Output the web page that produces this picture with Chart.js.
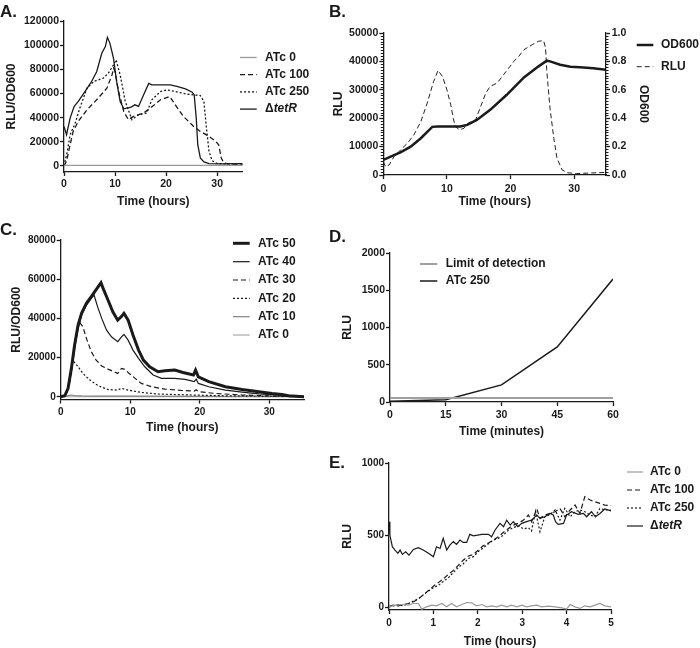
<!DOCTYPE html>
<html><head><meta charset="utf-8"><title>Figure</title>
<script src="https://cdn.jsdelivr.net/npm/chart.js@4.4.1/dist/chart.umd.min.js"></script>
<style>
html,body{margin:0;padding:0;background:#fff;}
body{position:relative;width:700px;height:648px;overflow:hidden;font-family:"Liberation Sans",Arial,sans-serif;}
canvas{position:absolute;}
.plab{position:absolute;font-weight:bold;font-size:17px;line-height:17px;color:#1a1a1a;}
</style></head><body>
<canvas id="cA" width="350" height="215" style="left:0;top:0"></canvas>
<canvas id="cB" width="375" height="215" style="left:325px;top:0"></canvas>
<canvas id="cC" width="350" height="225" style="left:0;top:215px"></canvas>
<canvas id="cD" width="375" height="228" style="left:325px;top:215px"></canvas>
<canvas id="cE" width="375" height="210" style="left:325px;top:440px"></canvas>
<div class="plab" style="left:0;top:3px">A.</div>
<div class="plab" style="left:329px;top:3px">B.</div>
<div class="plab" style="left:0;top:221px">C.</div>
<div class="plab" style="left:329px;top:228px">D.</div>
<div class="plab" style="left:329px;top:454px">E.</div>
<script>
const FONT = '"Liberation Sans", Arial, sans-serif';
const INK = '#1a1a1a';
Chart.defaults.font.family = FONT;
Chart.defaults.color = INK;

// ---------------- Panel A data (RLU/OD600 vs hours) ----------------
const A_xTicks = [0, 10, 20, 30];
const A_yTicks = [0, 20000, 40000, 60000, 80000, 100000, 120000];
const A_time_atc0 = [0, 5, 10, 15, 20, 25, 30, 35];
const A_atc0 = [500, 500, 500, 500, 500, 500, 500, 500];
const A_time_atc100 = [0,0.5,1.2,1.8,2.8,4.5,6.4,8.4,9.4,9.7,10,10.7,11.7,12.6,13.6,15.6,16.9,18.9,20.7,21.8,23.4,25.4,26.7,28.4,29.7,30.3,30.8,31.3,32.6,35];
const A_atc100 = [0,3900,17600,28600,36900,46500,54800,64400,75400,80900,78000,61600,45100,38300,41000,43800,47900,54800,57500,50600,41000,32700,28600,24500,20400,17600,6600,2500,1100,1100];
const A_time_atc250 = [0,0.65,1.2,2.2,3.1,4.5,5.8,7.7,8.7,9.7,10.2,11,12,13.3,14.6,16.2,17.2,18.9,20.2,21.8,24.1,26.7,27.4,27.9,28.4,29,30,32,35];
const A_atc250 = [0,12100,25900,35500,47900,64400,69900,72700,76800,83700,87800,75400,53400,38300,42400,43800,54800,61600,63000,61600,59400,58300,53400,31400,12100,4400,1900,1700,1700];
const A_time_dtetR = [0,0.5,1.2,2,2.8,4.1,5.4,6.4,7.4,8.1,8.5,9.0,9.7,10.3,11,11.7,13,13.9,14.6,15.6,16.6,17.2,18.9,20.8,22.1,23.8,25.1,25.5,25.9,26.2,26.7,27.4,28.4,30.6,35];
const A_dtetR = [32700,25900,39600,49300,53400,61600,69900,78000,93300,98800,106500,101500,89000,70000,53400,47300,48400,50600,49300,58900,68300,67100,67100,67100,65800,63800,61100,58900,39600,17600,6600,3300,1900,1700,1900];

// ---------------- Panel B data ----------------
const B_xTicks = [0, 10, 20, 30];
const B_yTicks = [0, 10000, 20000, 30000, 40000, 50000];
const B_y2Ticks = [0, 0.2, 0.4, 0.6, 0.8, 1.0];
const B_time_od = [0,1.15,2.7,4.3,5.9,7.7,8.5,12.1,13.2,14.7,16.8,19.4,22.1,24.4,25.7,26.2,27.8,29.4,30.9,33,35];
const B_od600 = [0.106,0.129,0.16,0.2,0.259,0.339,0.341,0.341,0.353,0.388,0.459,0.565,0.687,0.765,0.805,0.8,0.776,0.762,0.758,0.751,0.741];
const B_time_rlu = [0,0.37,0.9,1.7,2.7,3.8,4.8,5.9,6.9,7.9,8.6,9.3,10,10.6,11,11.3,12,12.7,13.3,14.5,15.3,16.1,16.8,17.9,18.9,19.7,20.5,21.3,22.1,23.4,24.4,25.2,25.5,25.7,26.2,26.8,27.3,28.1,28.9,30.4,32.5,35];
const B_rlu = [4700,2900,3500,6500,8800,11200,14100,18800,25300,32900,36800,34700,30000,24700,20000,17100,15900,16500,18200,19400,24100,28800,31200,32400,35300,37600,40000,41800,44100,45900,47100,47300,44700,36500,23500,12900,5900,1800,800,500,700,900];

// ---------------- Panel C data ----------------
const C_xTicks = [0, 10, 20, 30];
const C_yTicks = [0, 20000, 40000, 60000, 80000];
const C_time_atc50 = [0,0.58,1.06,1.54,2.0,2.5,3.0,3.7,4.4,4.9,5.4,5.8,6.1,6.8,7.5,8.2,8.7,9.1,9.7,10.4,11.2,11.9,12.8,14.0,15,16.4,17.6,19.1,19.4,19.8,21.3,23.7,26.1,28.5,30.4,31.8,32.8,35];
const C_atc50 = [0,500,4300,14500,26400,36600,42600,47700,51100,53600,56200,58200,55300,49400,43400,39100,40800,42600,39100,31500,23800,18700,15300,12800,13300,13600,12400,11100,13600,10200,7700,5100,3700,2600,1700,1200,500,0];
const C_time_atc40 = [0,0.58,1.06,1.54,2,2.5,3,3.7,4.4,4.8,5.3,5.9,6.6,7.3,8.2,8.75,9.1,9.7,10.4,11.2,12.1,13.3,14.5,16.4,17.9,19.2,19.5,19.8,21.3,23.7,26.1,28.5,30.9,33.3,35];
const C_atc40 = [0,300,3900,12800,24700,34900,41700,46800,50200,51900,46000,40000,34000,30600,28100,30600,31800,28900,23800,19600,15300,11100,9400,9400,8900,7700,9000,6800,5100,3400,2400,1500,900,300,0];
const C_time_atc30 = [0,0.8,1.3,1.8,2.3,2.7,3.2,3.7,4.4,5.1,5.9,6.8,8.2,8.75,9.2,9.7,10.7,11.6,13.1,15,17.4,19.2,19.5,19.8,22.2,26.1,30.9,35];
const C_atc30 = [0,900,7700,21300,31500,38000,35700,29800,23000,18700,15700,14100,11900,14500,14000,12400,9400,6800,5100,3900,3200,2900,3600,2600,1700,900,300,0];
const C_time_atc20 = [0,0.8,1.3,1.6,1.9,2.5,3.2,4.2,5.4,6.8,8.2,8.75,9.7,11.6,14,18.8,23.7,35];
const C_atc20 = [0,1200,9400,17000,17900,15300,11900,8500,5600,3700,3400,4300,3400,2200,1400,900,500,200];
const C_time_atc10 = [0,0.8,1.5,2,3,5,10,20,35];
const C_atc10 = [0,300,900,600,400,300,300,200,100];
const C_time_atc0 = [0,10,20,35];
const C_atc0 = [0,0,0,0];

// ---------------- Panel D data (RLU vs minutes) ----------------
const D_xTicks = [0, 15, 30, 45, 60];
const D_yTicks = [0, 500, 1000, 1500, 2000];
const D_minutes = [0, 15, 30, 45, 60];
const D_lod = [55, 55, 55, 55, 55];
const D_atc250 = [10, 30, 230, 740, 1650];

// ---------------- Panel E data (RLU vs hours) ----------------
const E_xTicks = [0, 1, 2, 3, 4, 5];
const E_yTicks = [0, 500, 1000];
const E_time_atc0 = [0,0.135,0.29,0.44,0.55,0.66,0.74,0.85,0.96,1.07,1.19,1.3,1.41,1.52,1.64,1.75,1.86,1.97,2.09,2.2,2.31,2.43,2.54,2.65,2.76,2.88,2.99,3.1,3.21,3.33,3.44,3.59,3.74,3.89,4.0,4.08,4.19,4.3,4.41,4.53,4.64,4.75,4.86,5];
const E_atc0 = [2,14,18,14,25,25,-14,2,14,9,25,2,25,2,18,32,30,9,18,2,9,2,14,2,14,2,14,2,9,14,2,7,2,-5,-14,18,2,-9,9,2,14,25,9,2];
const E_time_atc100 = [0,0.1,0.21,0.32,0.44,0.55,0.66,0.77,0.89,1.0,1.11,1.22,1.34,1.45,1.56,1.67,1.79,1.9,2.01,2.12,2.24,2.35,2.46,2.58,2.69,2.8,2.91,3.03,3.14,3.21,3.33,3.4,3.51,3.63,3.74,3.85,3.96,4.08,4.19,4.3,4.41,4.53,4.64,4.75,4.86,5];
const E_atc100 = [5,14,9,18,25,37,55,85,115,145,170,195,228,255,290,325,355,365,395,425,445,465,488,519,546,569,581,604,639,593,681,616,639,650,662,685,627,674,708,650,766,743,731,720,708,704];
const E_time_atc250 = [0,0.1,0.21,0.32,0.44,0.55,0.66,0.77,0.89,1.0,1.11,1.22,1.34,1.45,1.56,1.67,1.79,1.9,2.01,2.12,2.24,2.35,2.46,2.58,2.69,2.8,2.91,3.03,3.14,3.21,3.3,3.4,3.51,3.63,3.74,3.85,3.96,4.08,4.19,4.3,4.41,4.53,4.64,4.75,4.86,5];
const E_atc250 = [2,9,18,9,25,42,58,85,112,135,150,178,205,240,275,300,338,350,385,410,440,465,477,500,535,551,565,542,551,528,665,523,627,643,674,604,685,627,662,674,662,639,627,685,674,674];
const E_time_dtetR = [0,0.02,0.075,0.135,0.2,0.25,0.3,0.375,0.45,0.55,0.66,0.77,0.89,1.0,1.07,1.15,1.22,1.3,1.37,1.45,1.52,1.6,1.67,1.75,1.82,1.9,2.09,2.24,2.31,2.39,2.5,2.58,2.65,2.73,2.8,2.9,2.99,3.1,3.21,3.33,3.4,3.51,3.63,3.7,3.75,3.81,3.93,4.0,4.11,4.26,4.38,4.45,4.56,4.65,4.75,4.86,5];
const E_dtetR = [593,500,419,396,373,396,366,384,361,400,412,396,373,350,419,407,477,396,430,454,435,465,449,449,505,495,505,505,488,535,581,558,604,569,593,558,581,593,604,639,616,627,650,639,593,574,581,639,662,644,650,627,662,627,650,681,667];

// ---------------- helpers ----------------
const pts = (xs, ys) => xs.map((x, i) => ({x: x, y: ys[i]}));

function axis(o) {
  return {
    type: 'linear', position: o.position, min: o.min, max: o.max,
    border: {display: true, color: INK, width: 1.3},
    grid: {display: true, drawOnChartArea: false, drawTicks: true, tickLength: o.tickLength || 4, tickColor: INK, tickWidth: 1.3},
    ticks: {font: {family: FONT, size: o.tickSize, weight: 'bold'}, padding: o.tickPad, autoSkip: false,
            maxRotation: 0, minRotation: 0, color: INK, callback: o.fmt || (v => String(v))},
    afterBuildTicks: s => { s.ticks = o.ticks.map(v => ({value: v})); },
    title: {display: true, text: o.title, font: {family: FONT, size: 12, weight: 'bold'}, padding: o.titlePad, color: INK},
    afterFit: s => { if (s.isHorizontal()) s.height = o.box; else s.width = o.box; }
  };
}

function legendPlugin(L) {
  return {
    id: 'figLegend',
    afterDraw(chart) {
      const ctx = chart.ctx;
      ctx.save();
      L.order.forEach((di, i) => {
        const ds = chart.data.datasets[di];
        const y = L.ys[i];
        ctx.beginPath();
        ctx.setLineDash(ds.borderDash || []);
        ctx.lineWidth = ds.borderWidth;
        ctx.strokeStyle = ds.borderColor;
        ctx.moveTo(L.x0, y); ctx.lineTo(L.x1, y); ctx.stroke();
        ctx.setLineDash([]);
        ctx.fillStyle = INK;
        ctx.textBaseline = 'middle';
        ctx.textAlign = 'left';
        const label = ds.label;
        let x = L.tx;
        if (label.charAt(0) === 'Δ') {
          ctx.font = 'bold 12px ' + FONT;
          ctx.fillText('Δ', x, y);
          x += ctx.measureText('Δ').width;
          ctx.font = 'italic bold 12px ' + FONT;
          ctx.fillText(label.slice(1), x, y);
        } else {
          ctx.font = 'bold 12px ' + FONT;
          ctx.fillText(label, x, y);
        }
      });
      ctx.restore();
    }
  };
}

function minorTicks(list) {
  return {
    id: 'minorTicks',
    afterDraw(chart) {
      const ctx = chart.ctx;
      ctx.save();
      ctx.strokeStyle = INK; ctx.lineWidth = 1;
      list.forEach(m => {
        const s = chart.scales[m.id];
        const n = Math.round((s.max - s.min) / m.step);
        for (let k = 1; k < n; k++) {
          if (k % m.every === 0) continue;
          const py = Math.round(s.getPixelForValue(s.min + k * m.step)) + 0.5;
          const x0 = s.position === 'left' ? s.right : s.left;
          const x1 = s.position === 'left' ? s.right - m.len : s.left + m.len;
          ctx.beginPath(); ctx.moveTo(x0, py); ctx.lineTo(x1, py); ctx.stroke();
        }
      });
      ctx.restore();
    }
  };
}

function makeChart(id, datasets, scales, pad, plugins) {
  return new Chart(document.getElementById(id), {
    type: 'line',
    data: {datasets: datasets},
    options: {
      responsive: false, animation: false, devicePixelRatio: 1,
      layout: {padding: pad},
      plugins: {legend: {display: false}, tooltip: {enabled: false}},
      elements: {point: {radius: 0}, line: {tension: 0}},
      scales: scales
    },
    plugins: plugins
  });
}

// ---------------- Panel A ----------------
makeChart('cA', [
  {label: 'ATc 0', data: pts(A_time_atc0, A_atc0), borderColor: '#9a9a9a', borderWidth: 1.3},
  {label: 'ATc 100', data: pts(A_time_atc100, A_atc100), borderColor: INK, borderWidth: 1.3, borderDash: [5, 3]},
  {label: 'ATc 250', data: pts(A_time_atc250, A_atc250), borderColor: INK, borderWidth: 1.3, borderDash: [2, 2]},
  {label: 'ΔtetR', data: pts(A_time_dtetR, A_dtetR), borderColor: INK, borderWidth: 1.3}
], {
  x: axis({position: 'bottom', min: 0, max: 35, ticks: A_xTicks, tickSize: 10.5, tickPad: 2, title: 'Time (hours)', titlePad: {top: 0, bottom: 2.1}, box: 39}),
  y: axis({position: 'left', min: -5000, max: 120000, ticks: A_yTicks, tickSize: 10.5, tickPad: 1, title: 'RLU/OD600', titlePad: {top: 4.8, bottom: 0}, box: 64})
}, {left: 0, top: 21, right: 107.3, bottom: 4},
[legendPlugin({order: [0, 1, 2, 3], x0: 240, x1: 256.7, tx: 265, ys: [57.5, 74.7, 91.9, 109.1]})]);

// ---------------- Panel B ----------------
makeChart('cB', [
  {label: 'OD600', data: pts(B_time_od, B_od600), borderColor: INK, borderWidth: 2.5, yAxisID: 'y2'},
  {label: 'RLU', data: pts(B_time_rlu, B_rlu), borderColor: '#222', borderWidth: 1, borderDash: [5, 3], yAxisID: 'y'}
], {
  x: axis({position: 'bottom', min: 0, max: 35, ticks: B_xTicks, tickSize: 10.5, tickPad: 4, title: 'Time (hours)', titlePad: {top: 0, bottom: 2}, box: 36}),
  y: axis({position: 'left', min: 0, max: 50000, ticks: B_yTicks, tickSize: 10.5, tickPad: 1, title: 'RLU', titlePad: {top: 6.8, bottom: 0}, box: 58.3}),
  y2: axis({position: 'right', min: 0, max: 1, ticks: B_y2Ticks, tickSize: 10.5, tickPad: 1.7, fmt: v => v.toFixed(1), title: 'OD600', titlePad: {top: 5.5, bottom: 0}, box: 50})
}, {left: 0, top: 33, right: 44, bottom: 4},
[legendPlugin({order: [0, 1], x0: 311.7, x1: 328.3, tx: 336, ys: [45, 66.7]}),
 minorTicks([{id: 'y', step: 1000, every: 10, len: 2.5}, {id: 'y2', step: 0.02, every: 10, len: 2.5}])]);

// ---------------- Panel C ----------------
makeChart('cC', [
  {label: 'ATc 50', data: pts(C_time_atc50, C_atc50), borderColor: INK, borderWidth: 3},
  {label: 'ATc 40', data: pts(C_time_atc40, C_atc40), borderColor: INK, borderWidth: 1.2},
  {label: 'ATc 30', data: pts(C_time_atc30, C_atc30), borderColor: INK, borderWidth: 1.2, borderDash: [5, 3]},
  {label: 'ATc 20', data: pts(C_time_atc20, C_atc20), borderColor: INK, borderWidth: 1.2, borderDash: [2, 2]},
  {label: 'ATc 10', data: pts(C_time_atc10, C_atc10), borderColor: '#808080', borderWidth: 1.2},
  {label: 'ATc 0', data: pts(C_time_atc0, C_atc0), borderColor: '#a8a8a8', borderWidth: 1.2}
], {
  x: axis({position: 'bottom', min: 0, max: 35, ticks: C_xTicks, tickSize: 10, tickPad: 3, title: 'Time (hours)', titlePad: {top: 0, bottom: 2}, box: 37.7}),
  y: axis({position: 'left', min: -1400, max: 80000, ticks: C_yTicks, tickSize: 10, tickPad: 1, title: 'RLU/OD600', titlePad: {top: 9.5, bottom: 0}, box: 60.7})
}, {left: 0, top: 25, right: 46, bottom: 2.8},
[legendPlugin({order: [0, 1, 2, 3, 4, 5], x0: 233, x1: 249.7, tx: 258, ys: [28.3, 46.7, 65, 83.3, 101.7, 120]})]);

// ---------------- Panel D ----------------
makeChart('cD', [
  {label: 'Limit of detection', data: pts(D_minutes, D_lod), borderColor: '#a0a0a0', borderWidth: 2},
  {label: 'ATc 250', data: pts(D_minutes, D_atc250), borderColor: INK, borderWidth: 1.5}
], {
  x: axis({position: 'bottom', min: 0, max: 60, ticks: D_xTicks, tickSize: 10.5, tickPad: 3, title: 'Time (minutes)', titlePad: {top: 0, bottom: 2}, box: 38.9}),
  y: axis({position: 'left', min: 0, max: 2000, ticks: D_yTicks, tickSize: 10.5, tickPad: 1, title: 'RLU', titlePad: {top: 15.8, bottom: 0}, box: 65})
}, {left: 0, top: 38, right: 87, bottom: 2.1},
[legendPlugin({order: [0, 1], x0: 95, x1: 112.3, tx: 120.7, ys: [49, 66]})]);

// ---------------- Panel E ----------------
makeChart('cE', [
  {label: 'ATc 0', data: pts(E_time_atc0, E_atc0), borderColor: '#999999', borderWidth: 1.2},
  {label: 'ATc 100', data: pts(E_time_atc100, E_atc100), borderColor: INK, borderWidth: 1.2, borderDash: [5, 3]},
  {label: 'ATc 250', data: pts(E_time_atc250, E_atc250), borderColor: INK, borderWidth: 1.2, borderDash: [2, 2]},
  {label: 'ΔtetR', data: pts(E_time_dtetR, E_dtetR), borderColor: INK, borderWidth: 1.2}
], {
  x: axis({position: 'bottom', min: 0, max: 5, ticks: E_xTicks, tickSize: 10, tickPad: 3, title: 'Time (hours)', titlePad: {top: 0, bottom: 1.1}, box: 40}),
  y: axis({position: 'left', min: -20, max: 1000, ticks: E_yTicks, tickSize: 10, tickPad: 1, title: 'RLU', titlePad: {top: 15.8, bottom: 0}, box: 64})
}, {left: 0, top: 23, right: 89, bottom: 0},
[legendPlugin({order: [0, 1, 2, 3], x0: 302, x1: 318, tx: 325, ys: [32, 50, 68, 86]})]);
</script>
</body></html>
